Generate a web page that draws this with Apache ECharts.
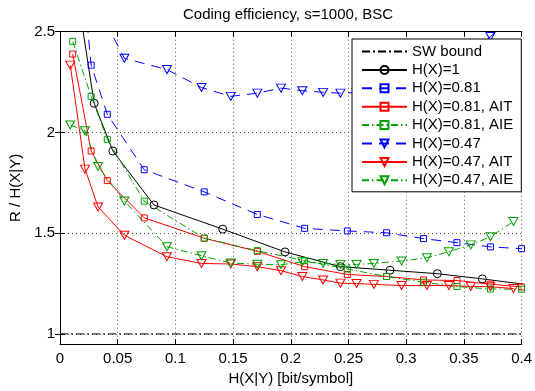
<!DOCTYPE html>
<html><head><meta charset="utf-8">
<script src="https://cdn.jsdelivr.net/npm/echarts@6/dist/echarts.min.js"></script>
<style>html,body{margin:0;padding:0;background:#fff}#c{width:535px;height:391px}</style>
</head><body><div id="c"></div>
<script>
// ---- data ----
const yTicks = [1, 1.5, 2, 2.5];
const swX = [0, 0.4];
const swY = [1, 1];

const circX = [0.012, 0.0296, 0.0458, 0.0814, 0.141, 0.195, 0.243, 0.286, 0.327, 0.366, 0.41];
const circY = [2.8, 2.145, 1.908, 1.64, 1.52, 1.407, 1.334, 1.316, 1.299, 1.273, 1.241];

const sqX = [0.011, 0.027, 0.041, 0.073, 0.125, 0.171, 0.212, 0.249, 0.283, 0.315, 0.344, 0.373, 0.4];
const sq081 = [3.3, 2.334, 2.09, 1.815, 1.705, 1.593, 1.524, 1.511, 1.502, 1.473, 1.453, 1.432, 1.423];
const sq081AIT = [2.389, 1.908, 1.761, 1.576, 1.475, 1.41, 1.334, 1.295, 1.285, 1.268, 1.265, 1.247, 1.233];
const sq081AIE = [2.452, 2.179, 1.966, 1.659, 1.475, 1.413, 1.364, 1.322, 1.285, 1.257, 1.235, 1.223, 1.222];

const triX = [0.0089, 0.0217, 0.033, 0.0558, 0.0927, 0.1226, 0.148, 0.171, 0.1915, 0.210, 0.228, 0.243, 0.257, 0.272, 0.296, 0.318, 0.337, 0.356, 0.373, 0.393];
const tri047X = triX.slice(2);
const tri047 = [2.62, 2.368, 2.312, 2.223, 2.179, 2.195, 2.22, 2.207, 2.199, 2.195, 2.198, 2.205, 2.23, 2.27, 2.32, 2.39, 2.476, 2.58];
const tri047AIT = [2.334, 1.818, 1.63, 1.49, 1.383, 1.35, 1.347, 1.334, 1.314, 1.285, 1.268, 1.252, 1.25, 1.246, 1.24, 1.24, 1.24, 1.236, 1.234, 1.225];
const tri047AIE = [2.037, 2.008, 1.831, 1.66, 1.433, 1.388, 1.352, 1.346, 1.343, 1.358, 1.35, 1.345, 1.345, 1.35, 1.362, 1.378, 1.408, 1.442, 1.482, 1.558];

const names = ['SW bound', 'H(X)=1', 'H(X)=0.81', 'H(X)=0.81, AIT', 'H(X)=0.81, AIE', 'H(X)=0.47', 'H(X)=0.47, AIT', 'H(X)=0.47, AIE'];

// ---- build ----
const zip = (xs, ys) => xs.map((x, i) => [x, ys[i]]);
const BLUE = '#0000ff', RED = '#ff0000', GREEN = '#00a000', BLACK = '#000000';
const DASH = [10, 7], DASHDOT = [7, 3, 1.5, 3];
const TRI = 'path://M0,0L10,0L5,8.66Z';
const FONT = '"Liberation Sans", Arial, Helvetica, sans-serif';

function ser(name, data, color, ltype, symbol, size) {
  return {
    name, type: 'line', data, clip: true, silent: true, animation: false,
    emphasis: { disabled: true },
    color: color,
    symbol: symbol || 'circle', symbolSize: size || 0, showSymbol: !!symbol,
    lineStyle: { color, width: 1, type: ltype },
    itemStyle: { color: 'rgba(0,0,0,0)', borderColor: symbol ? color : 'rgba(0,0,0,0)', borderWidth: symbol ? 1 : 0 }
  };
}

const series = [
  ser(names[0], zip(swX, swY), BLACK, [8, 3, 2, 3], null, 0),
  ser(names[1], zip(circX, circY), BLACK, 'solid', 'circle', 8),
  ser(names[2], zip(sqX, sq081), BLUE, DASH, 'rect', 6),
  ser(names[3], zip(sqX, sq081AIT), RED, 'solid', 'rect', 6),
  ser(names[4], zip(sqX, sq081AIE), GREEN, DASHDOT, 'rect', 6),
  ser(names[5], zip(tri047X, tri047), BLUE, DASH, TRI, [9, 8]),
  ser(names[6], zip(triX, tri047AIT), RED, 'solid', TRI, [9, 8]),
  ser(names[7], zip(triX, tri047AIE), GREEN, DASHDOT, TRI, [9, 8])
];

const axLine = { show: true, lineStyle: { color: '#000', width: 1 } };
const tick = { show: true, inside: true, length: 5, lineStyle: { color: '#000', width: 1 } };
const grid = { show: true, lineStyle: { color: '#555', width: 1, type: [1, 3] } };
const lbl = { color: '#000', fontSize: 15, fontFamily: FONT };

const option = {
  backgroundColor: '#fff',
  animation: false,
  textStyle: { fontFamily: FONT },
  title: {
    text: 'Coding efficiency, s=1000, BSC', left: 288, top: 7, padding: 0, textAlign: 'center',
    textStyle: { fontSize: 15, fontWeight: 'normal', color: '#000', fontFamily: FONT }
  },
  grid: { left: 56.5, right: 10, top: 31.7, bottom: 44.3, containLabel: false },
  legend: {
    data: names, orient: 'vertical', left: 352, top: 39, padding: [5, 8, 4, 9],
    itemGap: 3.4, itemWidth: 45, itemHeight: 10, selectedMode: false,
    backgroundColor: '#fff', borderColor: '#000', borderWidth: 1, borderRadius: 0,
    textStyle: { fontSize: 15, color: '#000', fontFamily: FONT }, z: 10
  },
  xAxis: [
    { type: 'value', min: 0, max: 0.4, interval: 0.05, position: 'bottom',
      axisLine: axLine, axisTick: tick, splitLine: grid,
      axisLabel: Object.assign({ margin: 7, formatter: v => String(+v.toFixed(2)) }, lbl),
      name: 'H(X|Y) [bit/symbol]', nameLocation: 'middle', nameGap: 27,
      nameTextStyle: { fontSize: 15, color: '#000', fontFamily: FONT } },
    { type: 'value', min: 0, max: 0.4, interval: 0.05, position: 'top',
      axisLine: axLine, axisTick: tick, splitLine: { show: false }, axisLabel: { show: false } }
  ],
  yAxis: [
    { type: 'value', min: 0.95, max: 2.5, position: 'left',
      axisLine: axLine, axisTick: Object.assign({ customValues: yTicks }, tick), splitLine: grid,
      axisLabel: Object.assign({ margin: 5, customValues: yTicks }, lbl),
      name: 'R / H(X|Y)', nameLocation: 'middle', nameGap: 37, nameRotate: 90,
      nameTextStyle: { fontSize: 15, color: '#000', fontFamily: FONT } },
    { type: 'value', min: 0.95, max: 2.5, position: 'right',
      axisLine: axLine, axisTick: Object.assign({ customValues: yTicks }, tick),
      splitLine: { show: false }, axisLabel: { show: false, customValues: yTicks } }
  ],
  series
};

const chart = echarts.init(document.getElementById('c'), null, { renderer: 'canvas' });
chart.setOption(option);
</script>
</body></html>
